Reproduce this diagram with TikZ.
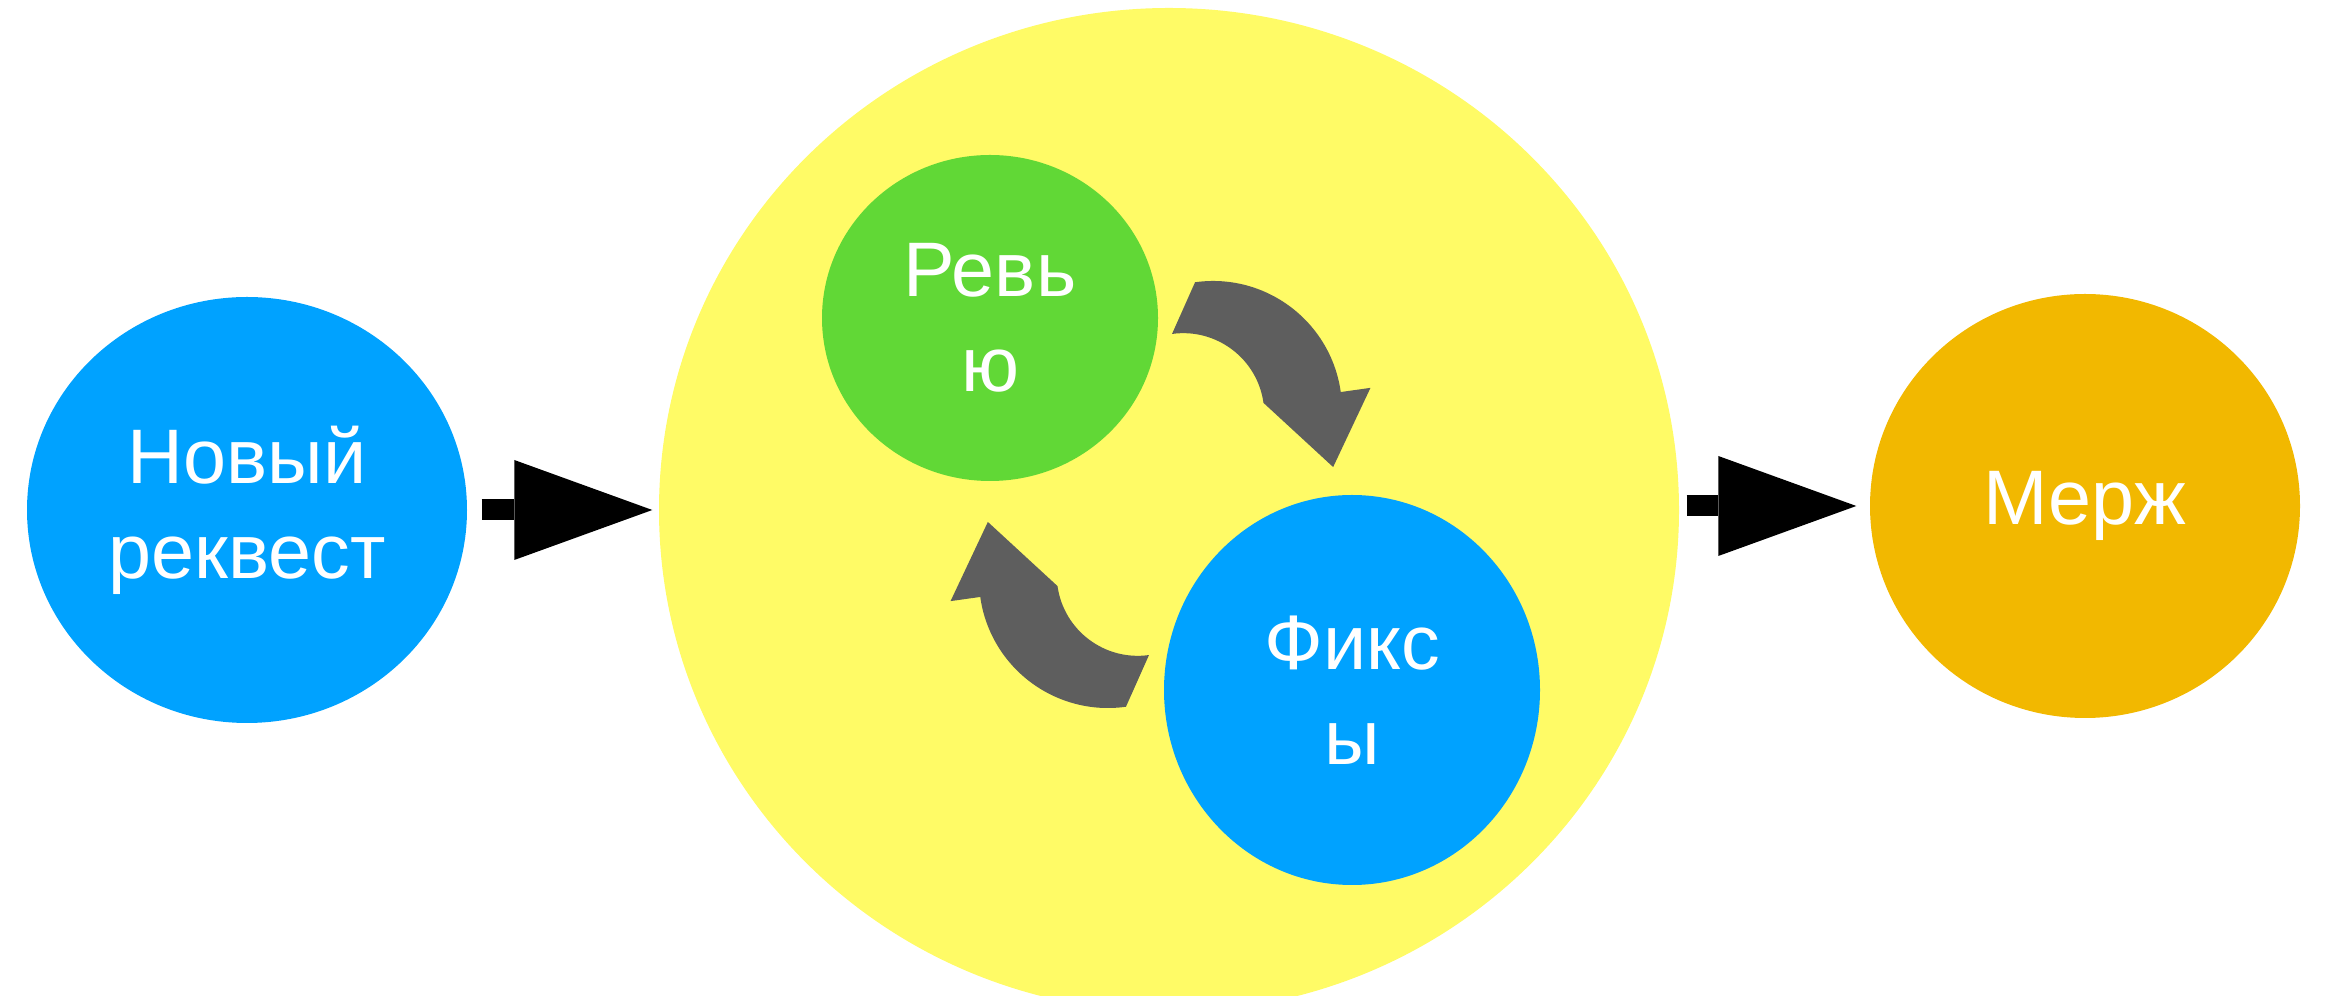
\documentclass[tikz,border=0pt]{standalone}
\usepackage{fontspec}
\setmainfont{Liberation Sans}
\usetikzlibrary{shapes.geometric,arrows.meta}

\definecolor{reqblue}{HTML}{00A2FF}
\definecolor{revgreen}{HTML}{61D836}
\definecolor{cycleyellow}{HTML}{FFFB66}
\definecolor{mergeorange}{HTML}{F2B800}
\definecolor{loopgray}{HTML}{5E5E5E}

\tikzset{
	bubble/.style={ellipse, inner sep=0pt, text=white, align=center, font=\fontsize{22}{27}\selectfont},
	bigarrow/.style={line width=0.21cm, -{Triangle[length=1.38cm, width=1.0cm, line width=0pt]}}
}

\begin{document}
\begin{tikzpicture}
		
		\useasboundingbox (0,0) rectangle (23.38,9.96);
		
		\node[bubble, fill=cycleyellow, minimum width=10.2cm, minimum height=10.04cm] (cycle) at (11.69,4.86) {};
		\node[bubble, fill=reqblue, minimum width=4.4cm, minimum height=4.26cm] (newreq) at (2.47,4.86) {Новый\\реквест};
		\node[bubble, fill=revgreen, minimum width=3.36cm, minimum height=3.26cm] (review) at (9.90,6.78) {Ревь\\ю};
		\node[bubble, fill=reqblue, minimum width=3.76cm, minimum height=3.9cm] (fixes) at (13.52,3.06) {Фикс\\ы};
		\node[bubble, fill=mergeorange, minimum width=4.3cm, minimum height=4.24cm] (merge) at (20.85,4.90) {Мерж};
		
		\draw[bigarrow, shorten <=0.14cm, shorten >=0.06cm] (newreq.east) -- (newreq.east -| cycle.west);
		\draw[bigarrow, shorten <=0.07cm, shorten >=0.13cm] (cycle.east |- merge.west) -- (merge.west);
		
		\coordinate (turnA) at (12.13,5.86);
		\coordinate (turnB) at (11.08,4.17);
		\foreach \c/\r in {turnA/0, turnB/180}
			\fill[loopgray, shift={(\c)}, rotate=\r] (98:1.29) arc[start angle=98, end angle=8, radius=1.29] -- (8:1.59) -- (-25.4:1.33) -- (8:0.51) arc[start angle=8, end angle=98, radius=0.81] -- cycle;
		
	\end{tikzpicture}
\end{document}
